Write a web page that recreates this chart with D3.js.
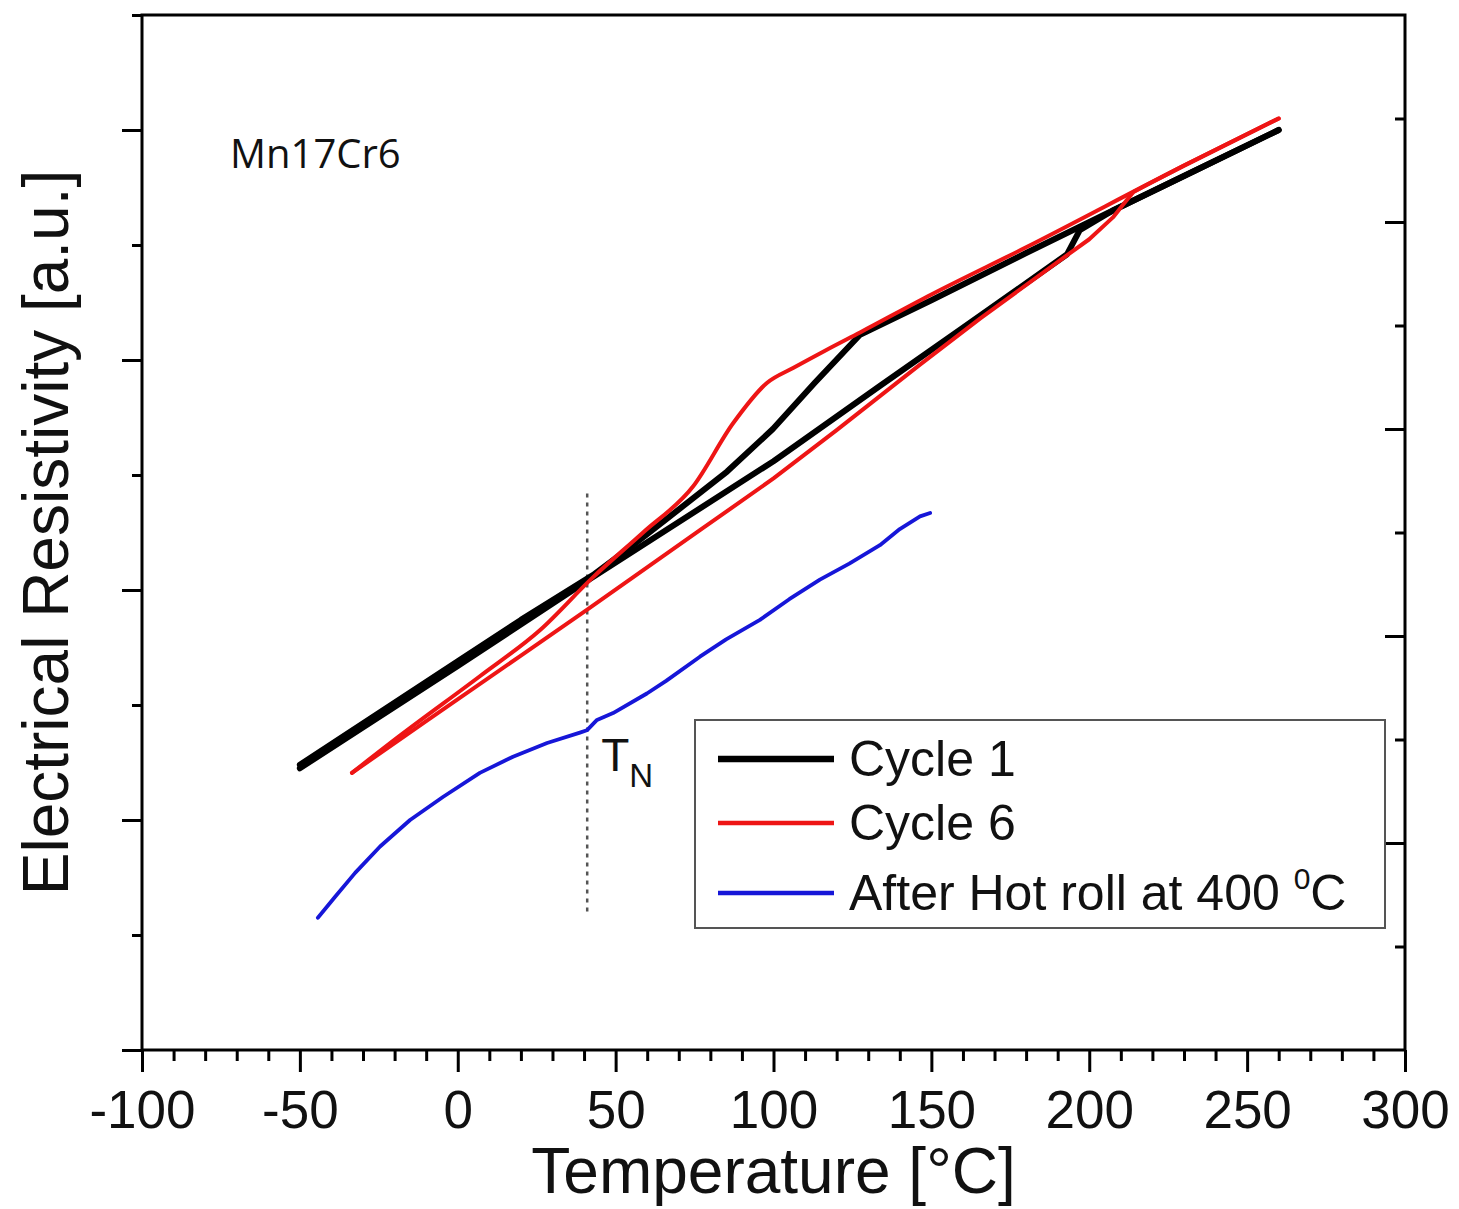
<!DOCTYPE html>
<head>
<meta charset="utf-8">
<title>Electrical resistivity vs temperature</title>
<script src="https://d3js.org/d3.v7.min.js"></script>
<style>
  body { margin: 0; background: #fff; }
  text { font-family: "Liberation Sans", Arial, sans-serif; fill: #111; }
</style>
</head>
<body>
<div id="chart"></div>
<script>
// ---- data (temperature in °C, resistivity in a.u.) ----
// Cycle 1, heating branch
var c1HeatT = [-50, 0, 41, 100, 134, 160, 193, 197, 207.5, 230, 260];
var c1HeatR = [2.45, 3.34, 4.08, 5.12, 5.78, 6.28, 6.92, 7.13, 7.30, 7.60, 8.00];
// Cycle 1, cooling branch
var c1CoolT = [-50, -25, 0, 20, 42.8, 53.6, 67.2, 85.3, 99.8, 113, 127.4, 150, 180, 207.5, 230, 260];
var c1CoolR = [2.48, 2.93, 3.38, 3.74, 4.13, 4.35, 4.64, 5.03, 5.40, 5.80, 6.22, 6.52, 6.93, 7.30, 7.60, 8.00];
// Cycle 6, heating branch
var c6HeatT = [-33.5, -10, 20, 41, 76.7, 100, 120, 146.4, 165.4, 193.9, 200, 207.5, 211, 214, 218, 230, 260];
var c6HeatR = [2.41, 2.86, 3.43, 3.83, 4.52, 4.97, 5.39, 5.96, 6.36, 6.93, 7.05, 7.24, 7.36, 7.46, 7.52, 7.69, 8.10];
// Cycle 6, cooling branch
var c6CoolT = [-33.5, -18, 7, 26, 42.8, 58.7, 74.5, 87.2, 97.9, 106.2, 116.9, 127.4, 150, 180, 230, 260];
var c6CoolR = [2.41, 2.74, 3.25, 3.65, 4.11, 4.50, 4.90, 5.45, 5.80, 5.93, 6.09, 6.24, 6.57, 6.98, 7.69, 8.10];
// After hot roll at 400 °C
var hotT = [-44.3, -38.9, -32.5, -24.6, -15.1, -4.7, 7.0, 17.5, 28.3, 38.7, 40.9, 44.1, 49.2, 59.9, 66, 76.7, 85, 95.7, 105, 114.7, 124, 133.7, 140, 146.4, 149.6];
var hotR = [1.15, 1.33, 1.54, 1.77, 2.00, 2.20, 2.41, 2.55, 2.67, 2.76, 2.78, 2.87, 2.93, 3.10, 3.21, 3.42, 3.57, 3.74, 3.92, 4.09, 4.23, 4.39, 4.53, 4.64, 4.67];

var xMajor = [-100, -50, 0, 50, 100, 150, 200, 250, 300];
var tN = 41;
var tNRange = [1.17, 4.84];

var legendNames = ["Cycle 1", "Cycle 6", "After Hot roll at 400 "];
var colors = ["#000000", "#ee1515", "#1616d8"];
var widths = [6, 4, 3.8];

// ---- layout ----
var W = 1459, H = 1209;
var plotL = 142, plotR = 1405, plotT = 15, plotB = 1050;

var svg = d3.select("#chart").append("svg")
    .attr("width", W).attr("height", H);

var x = d3.scaleLinear().domain([-100, 300]).range([plotL, plotR]);
var y = d3.scaleLinear().domain([0, 9]).range([plotB, plotT]);
var yR = d3.scaleLinear().domain([0, 10]).range([plotB, plotT]);

function zip(a, b) { return a.map(function(v, i) { return [v, b[i]]; }); }

// axes
var xMinor = d3.range(-100, 301, 10).filter(function(v) { return v % 50 !== 0; });
svg.append("g").attr("transform", "translate(0," + plotB + ")")
   .call(d3.axisBottom(x).tickValues(xMinor).tickSize(11).tickFormat(""));
var gx = svg.append("g").attr("transform", "translate(0," + plotB + ")")
   .call(d3.axisBottom(x).tickValues(xMajor).tickSize(22).tickPadding(18)
         .tickFormat(function(d) { return String(d); }));
gx.selectAll("text").style("font-size", "53px").attr("fill", "#111")
  .style("font-family", "'Liberation Sans', Arial, sans-serif");

svg.append("g").attr("transform", "translate(" + plotL + ",0)")
   .call(d3.axisLeft(y).tickValues([0, 2, 4, 6, 8]).tickSize(20).tickFormat(""));
svg.append("g").attr("transform", "translate(" + plotL + ",0)")
   .call(d3.axisLeft(y).tickValues([1, 3, 5, 7, 9]).tickSize(10).tickFormat(""));
svg.append("g").attr("transform", "translate(" + plotR + ",0)")
   .call(d3.axisLeft(yR).tickValues([2, 4, 6, 8]).tickSize(20).tickFormat(""));
svg.append("g").attr("transform", "translate(" + plotR + ",0)")
   .call(d3.axisLeft(yR).tickValues([1, 3, 5, 7, 9]).tickSize(10).tickFormat(""));

svg.selectAll(".domain").remove();
svg.selectAll(".tick line").attr("stroke", "#000").attr("stroke-width", 3);

svg.append("rect")
   .attr("x", plotL).attr("y", plotT)
   .attr("width", plotR - plotL).attr("height", plotB - plotT)
   .attr("fill", "none").attr("stroke", "#000").attr("stroke-width", 3);

// axis titles
svg.append("text")
   .attr("x", (plotL + plotR) / 2).attr("y", 1193)
   .attr("text-anchor", "middle").style("font-size", "64px")
   .text("Temperature [°C]");
svg.append("text")
   .attr("transform", "translate(68," + (plotT + plotB) / 2 + ") rotate(-90)")
   .attr("text-anchor", "middle").style("font-size", "64px")
   .text("Electrical Resistivity [a.u.]");

// sample label
svg.append("text")
   .attr("x", 230).attr("y", 168)
   .style("font-family", "'Open Sans', sans-serif").style("font-size", "40px")
   .text("Mn17Cr6");

// T_N marker
svg.append("line")
   .attr("x1", x(tN)).attr("x2", x(tN))
   .attr("y1", y(tNRange[1])).attr("y2", y(tNRange[0]))
   .attr("stroke", "#555").attr("stroke-width", 2.5)
   .attr("stroke-dasharray", "4,5");
var tn = svg.append("text").attr("x", x(tN) + 14).attr("y", 771).style("font-size", "46px");
tn.append("tspan").text("T");
tn.append("tspan").attr("dy", 16).style("font-size", "33px").text("N");

// curves
var lin = d3.line().x(function(d) { return x(d[0]); }).y(function(d) { return y(d[1]); });
var smooth = d3.line().curve(d3.curveMonotoneX)
   .x(function(d) { return x(d[0]); }).y(function(d) { return y(d[1]); });

function draw(pts, gen, i) {
  svg.append("path").datum(pts)
     .attr("d", gen)
     .attr("fill", "none")
     .attr("stroke", colors[i])
     .attr("stroke-width", widths[i])
     .attr("stroke-linejoin", "round")
     .attr("stroke-linecap", "round");
}
draw(zip(hotT, hotR), lin, 2);
draw(zip(c1HeatT, c1HeatR), lin, 0);
draw(zip(c1CoolT, c1CoolR), lin, 0);
draw(zip(c6HeatT, c6HeatR), lin, 1);
draw(zip(c6CoolT, c6CoolR), smooth, 1);

// legend
var lg = svg.append("g");
lg.append("rect")
  .attr("x", 695).attr("y", 720).attr("width", 690).attr("height", 208)
  .attr("fill", "#fff").attr("stroke", "#555").attr("stroke-width", 2);
var rows = [759, 823, 893];
legendNames.forEach(function(name, i) {
  lg.append("line")
    .attr("x1", 718).attr("x2", 834).attr("y1", rows[i]).attr("y2", rows[i])
    .attr("stroke", colors[i]).attr("stroke-width", widths[i] + 0.5);
  var t = lg.append("text").attr("x", 849).attr("y", rows[i] + 17).style("font-size", "50px").text(name);
  if (i === 2) {
    t.append("tspan").attr("dy", -21).style("font-size", "30px").text("0");
    t.append("tspan").attr("dy", 21).text("C");
  }
});
</script>
</body>
